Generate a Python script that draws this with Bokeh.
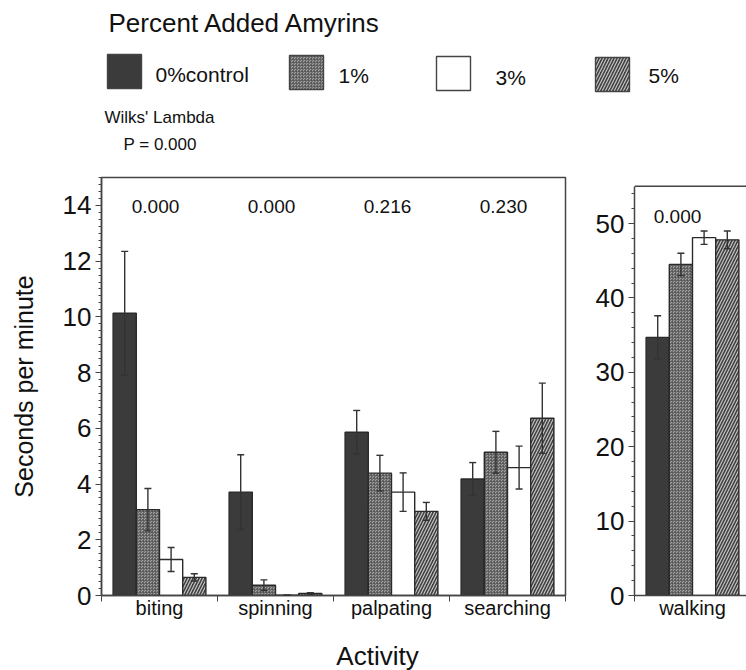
from bokeh.plotting import figure
from bokeh.layouts import column, row
from bokeh.models import (ColumnDataSource, Range1d, FixedTicker, SingleIntervalTicker,
                          Whisker, TeeHead, Label, Span)
from bokeh.embed import file_html
from bokeh.resources import INLINE
from bokeh.core.properties import value

# ---------------- data ----------------
activities = ["biting", "spinning", "palpating", "searching"]
series = ["0%control", "1%", "3%", "5%"]
pvals = ["0.000", "0.000", "0.216", "0.230"]

mean_0 = [10.13, 3.71, 5.86, 4.18]
mean_1 = [3.08, 0.37, 4.39, 5.14]
mean_3 = [1.29, 0.01, 3.71, 4.59]
mean_5 = [0.65, 0.07, 3.02, 6.36]
se_0 = [2.22, 1.34, 0.78, 0.59]
se_1 = [0.76, 0.19, 0.64, 0.75]
se_3 = [0.43, 0.00, 0.69, 0.77]
se_5 = [0.13, 0.03, 0.32, 1.26]

walk_activity = "walking"
walk_mean = [34.7, 44.5, 48.1, 47.8]
walk_se = [2.9, 1.5, 0.9, 1.2]
walk_p = "0.000"

wilks_title = "Wilks' Lambda"
wilks_p = "P = 0.000"
legend_title = "Percent Added Amyrins"

means = [mean_0, mean_1, mean_3, mean_5]
ses = [se_0, se_1, se_3, se_5]

# ---------------- styles ----------------
FONT = "Liberation Sans"
AX = "#444444"
EDGE = "#2a2a2a"
offsets = [-0.3, -0.1, 0.1, 0.3]
BW = 0.2
styles = [
    dict(fill_color="#3b3b3b"),
    dict(fill_color="#a3a3a3", hatch_pattern="criss_cross", hatch_color="#555555",
         hatch_scale=3, hatch_weight=0.7),
    dict(fill_color="white"),
    dict(fill_color="#404040", hatch_pattern="right_diagonal_line", hatch_color="#c4c4c4",
         hatch_scale=6, hatch_weight=1.2),
]

# shared frame geometry (row frames are aligned: screen y 177..595)
FR_TOP, FR_BOT = 7, 45
FRAME_H = 470 - FR_TOP - FR_BOT
# right panel: 50 at screen y 223, 0 at the frame bottom (595)
R_PX = (595 - 223) / 50.0
R_END = FRAME_H / R_PX


def style_axes(p):
    p.grid.visible = False
    for ax in p.axis:
        ax.axis_line_color = AX
        ax.axis_line_width = 1.5
        ax.major_tick_line_color = AX
        ax.minor_tick_line_color = AX
        ax.major_tick_line_width = 1.2
        ax.minor_tick_line_width = 1
        ax.major_tick_in = 0
        ax.minor_tick_in = 0
        ax.major_label_text_font = FONT
        ax.major_label_text_color = "#111111"
        ax.axis_label_text_font = FONT
        ax.axis_label_text_font_style = "normal"
        ax.axis_label_text_color = "#111111"


def add_bars(p, xs_base, mean_lists, se_lists):
    for j in range(4):
        xs = [xb + offsets[j] for xb in xs_base]
        m = mean_lists[j]
        s = se_lists[j]
        src = ColumnDataSource(dict(
            x=xs, top=m,
            upper=[a + b for a, b in zip(m, s)],
            lower=[a - b for a, b in zip(m, s)],
        ))
        p.vbar(x="x", top="top", bottom=0, width=BW, source=src,
               line_color=EDGE, line_width=1.4, **styles[j])
        w = Whisker(source=src, base="x", upper="upper", lower="lower",
                    dimension="height", line_color="#333333", line_width=1.4,
                    upper_head=TeeHead(size=7, line_color="#333333", line_width=1.4),
                    lower_head=TeeHead(size=7, line_color="#333333", line_width=1.4),
                    level="annotation")
        p.add_layout(w)


# ---------------- left panel ----------------
pL = figure(width=580, height=470, x_range=Range1d(0, 4), y_range=Range1d(0, 15),
            output_backend="svg", toolbar_location=None,
            min_border_left=101, min_border_right=15, min_border_top=FR_TOP,
            min_border_bottom=FR_BOT)
pL.outline_line_color = AX
pL.outline_line_width = 1.5
add_bars(pL, [i + 0.5 for i in range(len(activities))], means, ses)
pL.text(x=[i + 0.5 for i in range(len(activities))], y=[13.95] * len(activities), text=pvals,
        text_align="center", text_baseline="alphabetic", text_font=value(FONT),
        text_font_size="19px", text_color="#111111", x_offset=-4)
style_axes(pL)
pL.yaxis.ticker = SingleIntervalTicker(interval=2, num_minor_ticks=8)
pL.yaxis.major_tick_out = 6
pL.yaxis.minor_tick_out = 3
pL.yaxis.major_label_standoff = 4
pL.yaxis.major_label_text_font_size = "26px"
pL.yaxis.axis_label = "Seconds per minute"
pL.yaxis.axis_label_text_font_size = "25px"
pL.yaxis.axis_label_standoff = 22
pL.xaxis.ticker = FixedTicker(ticks=[i + 0.5 for i in range(len(activities))],
                              minor_ticks=list(range(len(activities) + 1)))
pL.xaxis.major_label_overrides = {i + 0.5: a for i, a in enumerate(activities)}
pL.xaxis.major_tick_out = 0
pL.xaxis.minor_tick_out = 6
pL.xaxis.major_label_standoff = -5
pL.xaxis.major_label_text_font_size = "20px"

# ---------------- right panel ----------------
pR = figure(width=166, height=470, x_range=Range1d(0, 112 / 116),
            y_range=Range1d(0, R_END),
            output_backend="svg", toolbar_location=None,
            min_border_left=54, min_border_right=0, min_border_top=FR_TOP,
            min_border_bottom=FR_BOT)
pR.outline_line_color = None
pR.add_layout(Span(location=55, dimension="width", line_color=AX, line_width=1.5))
add_bars(pR, [0.5], [[v] for v in walk_mean], [[v] for v in walk_se])
pR.text(x=[0.5], y=[51.0], text=[walk_p], text_align="center", text_baseline="alphabetic",
        text_font=value(FONT), text_font_size="19px", text_color="#111111", x_offset=-15)
style_axes(pR)
pR.yaxis.ticker = SingleIntervalTicker(interval=10, num_minor_ticks=5)
pR.yaxis.bounds = (0, 55)
pR.yaxis.major_tick_out = 6
pR.yaxis.minor_tick_out = 3
pR.yaxis.major_label_standoff = 4
pR.yaxis.major_label_text_font_size = "26px"
pR.xaxis.ticker = FixedTicker(ticks=[0.5], minor_ticks=[0])
pR.xaxis.major_label_overrides = {0.5: walk_activity}
pR.xaxis.major_tick_out = 0
pR.xaxis.minor_tick_out = 6
pR.xaxis.major_label_standoff = -5
pR.xaxis.major_label_text_font_size = "20px"

# ---------------- header (legend) ----------------
pH = figure(width=746, height=170, x_range=Range1d(0, 746), y_range=Range1d(170, 0),
            output_backend="svg", toolbar_location=None, min_border=0)
pH.axis.visible = False
pH.grid.visible = False
pH.outline_line_color = None
pH.add_layout(Label(x=108, y=22, text=legend_title, text_font=FONT, text_font_size="26px",
                    text_baseline="alphabetic", text_color="#111111"))
sw_left = [107, 289, 436, 595]
sw_top = [54, 55, 56, 57]
lab_x = [155, 338, 495, 648]
lab_y = [74, 75, 77, 75]
for j in range(4):
    pH.quad(left=[sw_left[j]], right=[sw_left[j] + 34], top=[sw_top[j]],
            bottom=[sw_top[j] + 34], line_color="#444444", line_width=1.4, **styles[j])
    pH.add_layout(Label(x=lab_x[j], y=lab_y[j], text=series[j], text_font=FONT,
                        text_font_size="21px", text_baseline="alphabetic",
                        text_color="#111111"))
pH.add_layout(Label(x=104, y=117, text=wilks_title, text_font=FONT, text_font_size="17px",
                    text_baseline="alphabetic", text_color="#111111"))
pH.add_layout(Label(x=123, y=144, text=wilks_p, text_font=FONT, text_font_size="17px",
                    text_baseline="alphabetic", text_color="#111111"))

# ---------------- footer ----------------
pF = figure(width=746, height=30, x_range=Range1d(0, 746), y_range=Range1d(30, 0),
            output_backend="svg", toolbar_location=None, min_border=0)
pF.axis.visible = False
pF.grid.visible = False
pF.outline_line_color = None
pF.add_layout(Label(x=377, y=15, text="Activity", text_font=FONT, text_font_size="26px",
                    text_align="center", text_baseline="alphabetic", text_color="#111111"))

layout = column(pH, row(pL, pR), pF)
open("out.html", "w").write(file_html(layout, INLINE))
